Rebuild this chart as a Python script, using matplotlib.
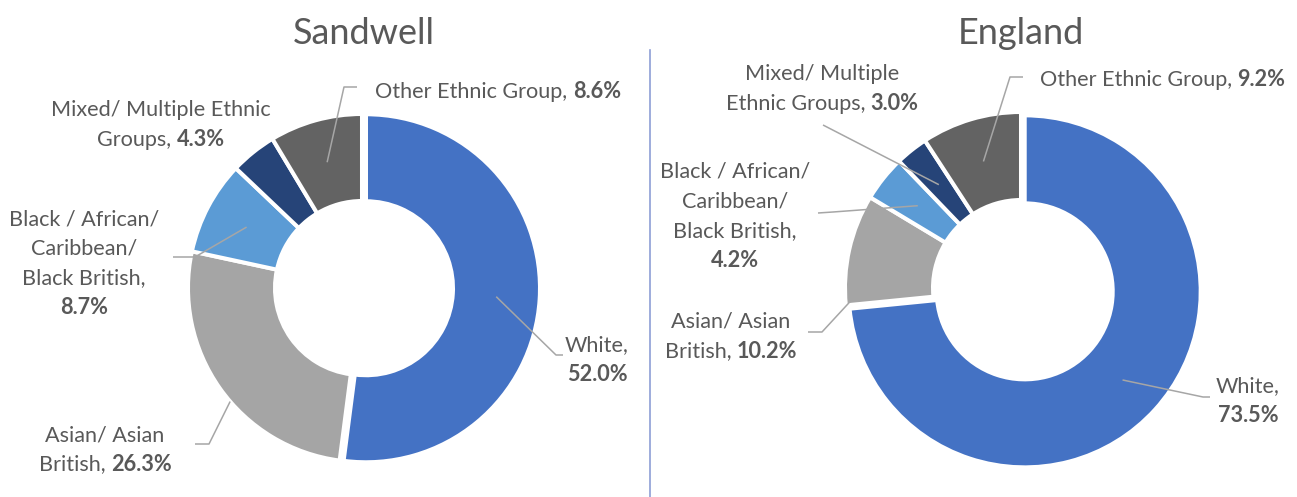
import numpy as np
import matplotlib
matplotlib.use("Agg")
import matplotlib.pyplot as plt

# ---- data -------------------------------------------------------------
categories = ["White", "Asian/ Asian British", "Black / African/ Caribbean/ Black British",
              "Mixed/ Multiple Ethnic Groups", "Other Ethnic Group"]
sandwell_pct = [52.0, 26.3, 8.7, 4.3, 8.6]
england_pct = [73.5, 10.2, 4.2, 3.0, 9.2]
slice_colors = ["#4472C4", "#A5A5A5", "#5B9BD5", "#264478", "#636363"]
chart_titles = ["Sandwell", "England"]

# label wording, "{v}" marks the (bold) value
sandwell_label_lines = [
    ["White,", "{v}"],
    ["Asian/ Asian", "British, {v}"],
    ["Black / African/", "Caribbean/", "Black British,", "{v}"],
    ["Mixed/ Multiple Ethnic", "Groups, {v}"],
    ["Other Ethnic Group, {v}"],
]
england_label_lines = [
    ["White,", "{v}"],
    ["Asian/ Asian", "British, {v}"],
    ["Black / African/", "Caribbean/", "Black British,", "{v}"],
    ["Mixed/ Multiple", "Ethnic Groups, {v}"],
    ["Other Ethnic Group, {v}"],
]

# ---- style / layout ---------------------------------------------------
W, H = 1297, 497
FONT = ["Lato", "DejaVu Sans"]
TXT = "#595959"
LEADER = "#A6A6A6"
LABEL_SIZE = 15.6
TITLE_SIZE = 26
LINE_STEP = 29.5

# layout in pixels measured from the top-left corner
charts = [
    dict(title=chart_titles[0], values=sandwell_pct, lines=sandwell_label_lines,
         center=(362, 288), radius=174, explode_px=4, title_xy=(364, 30),
         text=[(597, 343, "center"), (105, 433, "center"), (84, 217, "center"),
               (161, 108, "center"), (375, 90, "left")],
         leaders=[(0, 0.75, [(556, 355), (563, 355)]),
                  (5.5, 1.0, [(209, 444), (195, 444)]),
                  (0, 0.75, [(195, 257), (173, 257)]),
                  None,
                  (0, 0.75, [(344, 87), (357, 87)])]),
    dict(title=chart_titles[1], values=england_pct, lines=england_label_lines,
         center=(1021, 288), radius=176, explode_px=5, title_xy=(1021, 30),
         text=[(1248, 384, "center"), (731, 320, "center"), (735, 170, "center"),
               (822, 72, "center"), (1040, 78, "left")],
         leaders=[(0, 0.75, [(1203, 397), (1210, 397)]),
                  (17, 0.97, [(822, 332), (808, 332)]),
                  (0, 0.75, [(833, 212), (818, 213)]),
                  (0, 0.75, [(823, 125)]),
                  (0, 0.75, [(1010, 77), (1023, 77)])]),
]


def Y(y):
    return H - y


fig = plt.figure(figsize=(W / 100, H / 100), dpi=100)
ax = fig.add_axes([0, 0, 1, 1])
renderer = fig.canvas.get_renderer()


def text_width(s, weight, size):
    t = ax.text(0, 0, s, fontsize=size, fontweight=weight, family=FONT)
    w = t.get_window_extent(renderer).width
    t.remove()
    return w


def rich_line(x, y, segments, ha, size=LABEL_SIZE):
    space = text_width("n n", "normal", size) - text_width("nn", "normal", size)
    widths = [text_width(s, w, size) for s, w in segments]
    total = sum(widths) + space * (len(segments) - 1)
    if ha == "center":
        x0 = x - total / 2
    elif ha == "right":
        x0 = x - total
    else:
        x0 = x
    for (s, w), wd in zip(segments, widths):
        ax.text(x0, Y(y), s, fontsize=size, fontweight=w, family=FONT, color=TXT,
                ha="left", va="center_baseline")
        x0 += wd + space


for ch in charts:
    cx, cy = ch["center"]
    R = ch["radius"]
    explode = [ch["explode_px"], 0, 0, 0, 0]
    wedges, _ = ax.pie(ch["values"], colors=slice_colors, startangle=90, counterclock=False,
                       radius=R, center=(cx, Y(cy)), explode=explode, frame=True,
                       wedgeprops=dict(width=R * 0.5, edgecolor="white", linewidth=2.9,
                                       joinstyle="miter"))

    # title
    tx, ty = ch["title_xy"]
    ax.text(tx, Y(ty), ch["title"], fontsize=TITLE_SIZE, family=FONT, color=TXT,
            ha="center", va="center_baseline")

    # data labels
    for i, (w, v) in enumerate(zip(wedges, ch["values"])):
        lx, ly, ha = ch["text"][i]
        vstr = f"{v:.1f}%"
        for k, line in enumerate(ch["lines"][i]):
            if "{v}" in line:
                prefix = line.replace("{v}", "").strip()
                segs = ([(prefix, "normal")] if prefix else []) + [(vstr, "bold")]
            else:
                segs = [(line, "normal")]
            rich_line(lx, ly + k * LINE_STEP, segs, ha)

        spec = ch["leaders"][i]
        if spec is None:
            continue
        offset, frac, pts = spec
        ang = np.deg2rad((w.theta1 + w.theta2) / 2 + offset)
        ax0 = w.center[0] + frac * w.r * np.cos(ang)
        ay0 = w.center[1] + frac * w.r * np.sin(ang)
        xs = [ax0] + [p[0] for p in pts]
        ys = [ay0] + [Y(p[1]) for p in pts]
        ax.plot(xs, ys, color=LEADER, lw=1.1, solid_capstyle="butt", zorder=5)

# divider between the two charts
ax.plot([650, 650], [Y(50), Y(497)], color="#8E9ED6", lw=1.2)

ax.set_xlim(0, W)
ax.set_ylim(0, H)
ax.set_aspect("auto")
ax.axis("off")

fig.savefig("out.png", dpi=100, facecolor="white")
